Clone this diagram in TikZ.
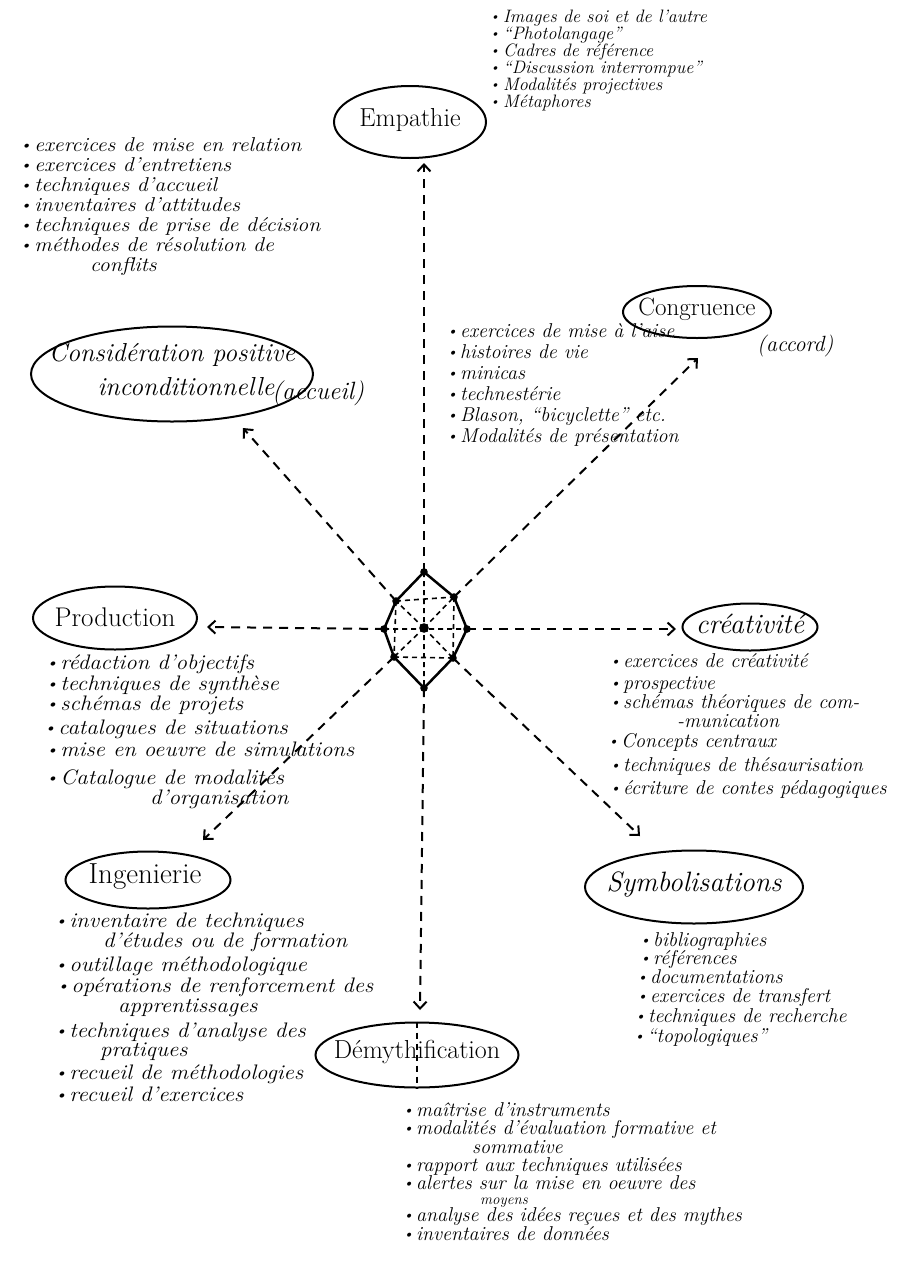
\documentclass[tikz,border=0pt]{standalone}
\usepackage{fontspec}
\usepackage{graphicx}
\usetikzlibrary{shapes.geometric,arrows.meta}
\newcommand{\bu}{\makebox[13pt][l]{\raisebox{2pt}{\scalebox{0.7}{\textbullet}}}}
\newcommand{\wx}[1]{\scalebox{1.09}[1]{#1}}
\begin{document}
\begin{tikzpicture}[x=1pt,y=-1pt,
  ell/.style={draw, ellipse, line width=2pt, inner sep=0pt},
  hd/.style={inner sep=0pt, font=\fontsize{#1}{#1}\selectfont},
  hdi/.style={inner sep=0pt, font=\itshape\fontsize{#1}{#1}\selectfont},
  li/.style={anchor=base west, inner sep=0pt, font=\itshape\fontsize{#1}{#1}\selectfont},
  li/.default=20,
  link/.style={line width=2pt, dash pattern=on 9pt off 7pt, -{Straight Barb[length=7pt,width=13pt]}},
  octdash/.style={line width=1.6pt, dash pattern=on 5pt off 4pt},
]
\fill[white] (0,0) rectangle (908,1267);
\useasboundingbox (0,0) rectangle (908,1267);

% ---------- central octagon ----------
\coordinate (oT) at (424,572);
\coordinate (oUR) at (454,597);
\coordinate (oR) at (467,629);
\coordinate (oLR) at (453,658);
\coordinate (oB) at (424,688);
\coordinate (oLL) at (394,657);
\coordinate (oL) at (384,629);
\coordinate (oUL) at (396,601);
\coordinate (oC) at (424,628);
\draw[octdash] (oUL) -- (oUR) (oLL) -- (oLR) (oUL) -- (oLL) (oUR) -- (oLR)
  (oT) -- (oB) (oL) -- (oR) (oC) -- (oUL) (oC) -- (oUR) (oC) -- (oLL) (oC) -- (oLR);
\draw[line width=2.5pt, line join=round] (oT) -- (oUR) -- (oR) -- (oLR) -- (oB) -- (oLL) -- (oL) -- (oUL) -- cycle;
\foreach \p in {oT,oUR,oR,oLR,oB,oLL,oL,oUL} \fill (\p) circle (3.8pt);
\fill (oC) circle (4.8pt);

% ---------- ellipses ----------
\node[ell, minimum width=152pt, minimum height=72pt] (emp) at (410,122) {};
\node[hd=26] (empT) at (410,120) {Empathie};
\node[ell, minimum width=148pt, minimum height=52pt] (cng) at (697,312) {};
\node[hd=25] (cngT) at (697,309) {Congruence};
\node[inner sep=0pt, anchor=base west, font=\itshape\fontsize{22}{22}\selectfont] (acc) at (757,351) {(accord)};
\node[ell, minimum width=282pt, minimum height=95pt] (cons) at (172,374) {};
\node[hdi=26] (consA) at (172,355) {Considération positive};
\node[hdi=26] (consB) at (186,387) {inconditionnelle};
\node[inner sep=0pt, anchor=base west, font=\itshape\fontsize{25}{25}\selectfont] (acl) at (272,399) {(accueil)};
\node[ell, minimum width=164pt, minimum height=63pt] (prod) at (115,618) {};
\node[hd=27] (prodT) at (115,617) {Production};
\node[ell, minimum width=135pt, minimum height=47pt] (crea) at (750,627) {};
\node[hdi=28] (creaT) at (750,624) {créativité};
\node[ell, minimum width=165pt, minimum height=57pt] (ing) at (148,880) {};
\node[hd=29] (ingT) at (145,877) {Ingenierie};
\node[ell, minimum width=218pt, minimum height=73pt] (sym) at (694,887) {};
\node[hdi=28] (symT) at (694,884) {Symbolisations};
\node[ell, minimum width=203pt, minimum height=65pt] (dem) at (417,1055) {};
\node[hd=26] (demT) at (417,1052) {Démythification};

% ---------- connectors ----------
\coordinate (tE) at (424,163);
\coordinate (tCg) at (698,358);
\coordinate (tCo) at (243,428);
\coordinate (tP) at (207,627);
\coordinate (tCr) at (676,629);
\coordinate (tI) at (203,840);
\coordinate (tS) at (640,836);
\coordinate (tD) at (420,1010);
\draw[link] (oT) -- (tE);
\draw[link] (oUR) -- (tCg);
\draw[link] (oUL) -- (tCo);
\draw[link] (oL) -- (tP);
\draw[link] (oR) -- (tCr);
\draw[link] (oLL) -- (tI);
\draw[link] (oLR) -- (tS);
\draw[link] (oB) -- (tD);
\draw[line width=1.6pt, dash pattern=on 6pt off 5pt] (dem.north) -- (dem.south);

% ---------- Empathie list ----------
\node[li=18] (e1) at (490,22) {\bu Images de soi et de l'autre};
\node[li=18] (e2) at (490,39) {\bu “Photolangage”};
\node[li=18] (e3) at (490,56) {\bu Cadres de référence};
\node[li=18] (e4) at (490,73) {\bu “Discussion interrompue”};
\node[li=18] (e5) at (490,90) {\bu Modalités projectives};
\node[li=18] (e6) at (490,107) {\bu Métaphores};

% ---------- Considération list ----------
\node[li] (c1) at (20,151) {\wx{\bu exercices de mise en relation}};
\node[li] (c2) at (20,171) {\wx{\bu exercices d'entretiens}};
\node[li] (c3) at (20,191) {\wx{\bu techniques d'accueil}};
\node[li] (c4) at (20,211) {\wx{\bu inventaires d'attitudes}};
\node[li] (c5) at (20,231) {\wx{\bu techniques de prise de décision}};
\node[li] (c6) at (20,251) {\wx{\bu méthodes de résolution de}};
\node[li] (c7) at (90,271) {\wx{conflits}};

% ---------- Congruence list ----------
\node[li] (g1) at (447,337) {\bu exercices de mise à l'aise};
\node[li] (g2) at (447,358) {\bu histoires de vie};
\node[li] (g3) at (447,379) {\bu minicas};
\node[li] (g4) at (447,400) {\bu technestérie};
\node[li] (g5) at (447,421) {\bu Blason, “bicyclette” etc.};
\node[li] (g6) at (447,442) {\bu Modalités de présentation};

% ---------- Production list ----------
\node[li=21] (p1) at (46,669) {\wx{\bu rédaction d'objectifs}};
\node[li=21] (p2) at (46,690) {\wx{\bu techniques de synthèse}};
\node[li=21] (p3) at (46,710) {\wx{\bu schémas de projets}};
\node[li=21] (p4) at (44,734) {\wx{\bu catalogues de situations}};
\node[li=21] (p5) at (46,756) {\wx{\bu mise en oeuvre de simulations}};
\node[li=21] (p6) at (46,784) {\wx{\bu Catalogue de modalités}};
\node[li=21] (p7) at (150,804) {\wx{d'organisation}};

% ---------- créativité list ----------
\node[li] (r1) at (610,667) {\bu exercices de créativité};
\node[li] (r2) at (610,689) {\bu prospective};
\node[li] (r3) at (610,708) {\bu schémas théoriques de com-};
\node[li] (r4) at (677,727) {-munication};
\node[li] (r5) at (608,747) {\bu Concepts centraux};
\node[li] (r6) at (610,771) {\bu techniques de thésaurisation};
\node[li] (r7) at (610,794) {\bu écriture de contes pédagogiques};

% ---------- Ingenierie list ----------
\node[li=21] (i1) at (55,927) {\wx{\bu inventaire de techniques}};
\node[li=21] (i2) at (103,947) {\wx{d'études ou de formation}};
\node[li=21] (i3) at (55,971) {\wx{\bu outillage méthodologique}};
\node[li=21] (i4) at (57,992) {\wx{\bu opérations de renforcement des}};
\node[li=21] (i5) at (118,1012) {\wx{apprentissages}};
\node[li=21] (i6) at (55,1037) {\wx{\bu techniques d'analyse des}};
\node[li=21] (i7) at (100,1056) {\wx{pratiques}};
\node[li=21] (i8) at (55,1079) {\wx{\bu recueil de méthodologies}};
\node[li=21] (i9) at (55,1101) {\wx{\bu recueil d'exercices}};

% ---------- Symbolisations list ----------
\node[li] (s1) at (640,946) {\bu bibliographies};
\node[li] (s2) at (640,964) {\bu références};
\node[li] (s3) at (637,983) {\bu documentations};
\node[li] (s4) at (637,1002) {\bu exercices de transfert};
\node[li] (s5) at (635,1022) {\bu techniques de recherche};
\node[li] (s6) at (634,1042) {\bu “topologiques”};

% ---------- Démythification list ----------
\node[li] (d1) at (403,1116) {\bu maîtrise d'instruments};
\node[li] (d2) at (403,1134) {\bu modalités d'évaluation formative et};
\node[li] (d3) at (472,1153) {sommative};
\node[li] (d4) at (403,1171) {\bu rapport aux techniques utilisées};
\node[li] (d5) at (403,1189) {\bu alertes sur la mise en oeuvre des};
\node[li=15] (d6) at (480,1204) {moyens};
\node[li] (d7) at (403,1221) {\bu analyse des idées reçues et des mythes};
\node[li] (d8) at (403,1240) {\bu inventaires de données};
\end{tikzpicture}
\end{document}
